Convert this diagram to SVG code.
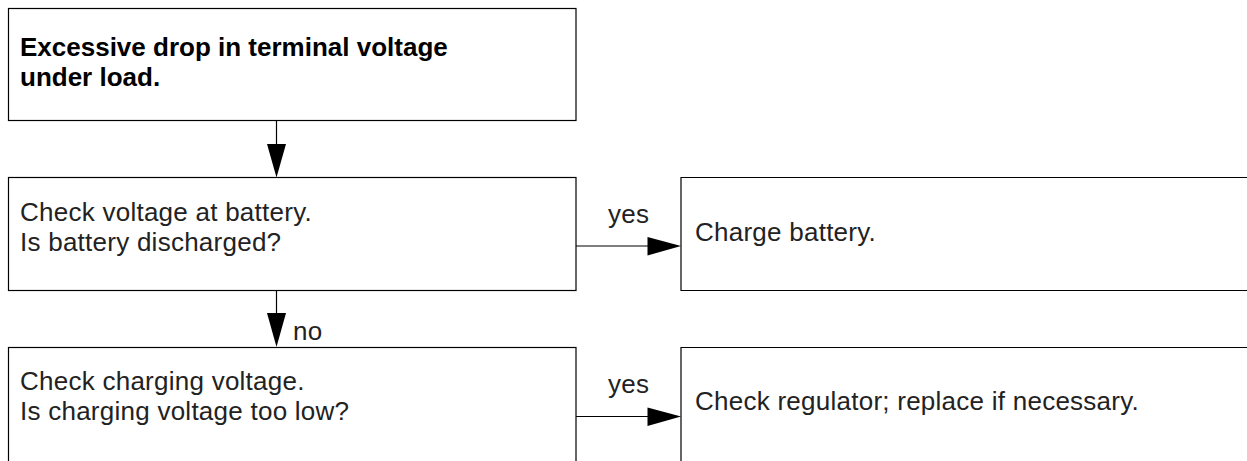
<svg xmlns="http://www.w3.org/2000/svg" width="1247" height="461" viewBox="0 0 1247 461">
<style>
.box{fill:#fff;stroke:#000;stroke-width:1.2}
.t{font-family:"Liberation Sans",Arial,sans-serif;font-size:26px;fill:#222;letter-spacing:0.25px}
.b{font-family:"Liberation Sans",Arial,sans-serif;font-size:26px;font-weight:bold;fill:#000}
.ln{stroke:#000;stroke-width:1.2;fill:none}
.ah{fill:#000}
</style>
<rect width="1247" height="461" fill="#fff"/>
<g id="n1">
<rect class="box" x="8.5" y="8.5" width="567.5" height="112"/>
<text class="b" x="20" y="56">Excessive drop in terminal voltage</text>
<text class="b" x="20" y="86">under load.</text>
</g>
<g id="n2">
<rect class="box" x="8.5" y="177.5" width="567.5" height="113"/>
<text class="t" x="20" y="221">Check voltage at battery.</text>
<text class="t" x="20" y="251">Is battery discharged?</text>
</g>
<g id="n3">
<path class="ln" d="M1250,177.5 H681 V290.5 H1250"/>
<text class="t" x="695" y="241">Charge battery.</text>
</g>
<g id="n4">
<rect class="box" x="8.5" y="347.5" width="567.5" height="130"/>
<text class="t" x="20" y="390">Check charging voltage.</text>
<text class="t" x="20" y="420">Is charging voltage too low?</text>
</g>
<g id="n5">
<path class="ln" d="M1250,347.5 H681 V470"/>
<text class="t" x="695" y="410">Check regulator; replace if necessary.</text>
</g>
<g id="connectors">
<line class="ln" x1="276.5" y1="120.5" x2="276.5" y2="146"/>
<polygon class="ah" points="267,144 286,144 276.5,177.5"/>
<line class="ln" x1="276.5" y1="290.5" x2="276.5" y2="315"/>
<polygon class="ah" points="267,313 286,313 276.5,347"/>
<text class="t" x="293" y="340">no</text>
<line class="ln" x1="576" y1="246" x2="650" y2="246"/>
<polygon class="ah" points="647.5,237 647.5,255.5 681,246"/>
<text class="t" x="608" y="223">yes</text>
<line class="ln" x1="576" y1="416.5" x2="650" y2="416.5"/>
<polygon class="ah" points="647.5,407.5 647.5,426 681,416.5"/>
<text class="t" x="608" y="393">yes</text>
</g>
</svg>
